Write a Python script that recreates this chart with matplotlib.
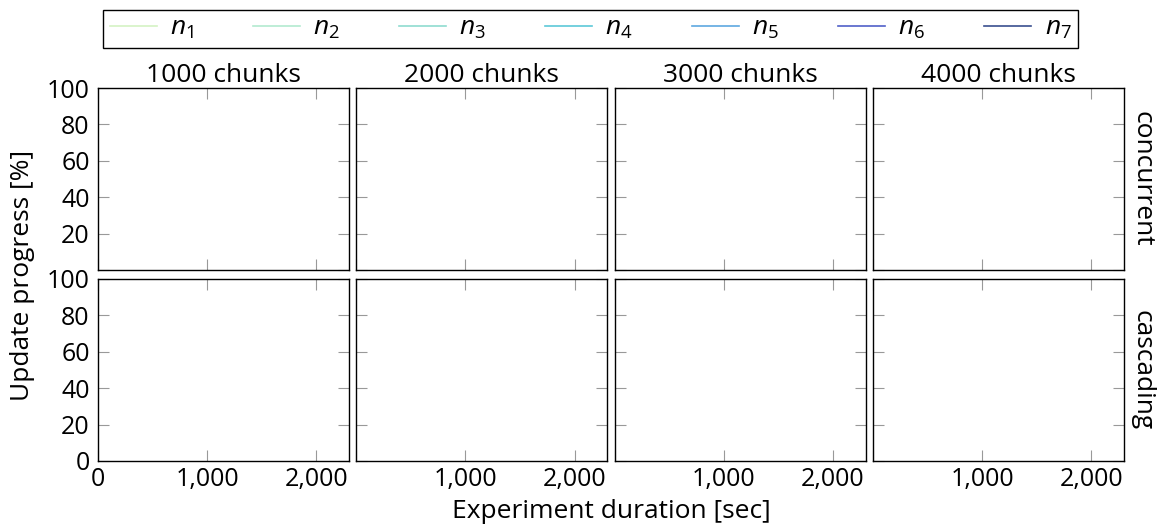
import matplotlib
matplotlib.use("Agg")
import matplotlib.pyplot as plt
from matplotlib.ticker import FuncFormatter

# panel layout: columns = chunk counts, rows = update strategy
chunks = [1000, 2000, 3000, 4000]
strategies = ["concurrent", "cascading"]
nodes = ["n1", "n2", "n3", "n4", "n5", "n6", "n7"]
node_colors = ["#d4f2c4", "#b3ead0", "#8fdcd0", "#5cc8d8", "#5ea8e0", "#5060c8", "#3a4f8f"]

# measured progress per node: empty in the reference (no curves drawn)
time_sec = []
progress = []

x_ticks = [0, 1000, 2000]
y_ticks = [0, 20, 40, 60, 80, 100]

plt.rcParams["font.family"] = ["Open Sans", "DejaVu Sans"]
plt.rcParams["mathtext.fontset"] = "custom"
plt.rcParams["mathtext.it"] = "Open Sans:italic"
plt.rcParams["mathtext.rm"] = "Open Sans"

FS = 19
W, H = 1163, 530
fig, axes = plt.subplots(2, 4, figsize=(W / 100, H / 100), dpi=100)
fig.subplots_adjust(left=98 / W, right=1124 / W, top=1 - 88 / H, bottom=1 - 461 / H,
                    wspace=0.028, hspace=0.044)

thousands = FuncFormatter(lambda v, p: f"{v:,.0f}")

for r, strat in enumerate(strategies):
    for c, ch in enumerate(chunks):
        ax = axes[r, c]
        for name, col in zip(nodes, node_colors):
            ax.plot(time_sec, progress, color=col, lw=1.2,
                    label=f"${name[0]}_{{{name[1:]}}}$")
        ax.set_xlim(0, 2300)
        ax.set_ylim(0, 100)
        ax.set_xticks(x_ticks)
        ax.set_yticks(y_ticks)
        ax.tick_params(direction="in", length=8, width=0.8, color="#999999",
                       top=True, right=True, labelsize=FS - 1)
        ax.tick_params(axis="x", pad=4)
        ax.tick_params(axis="y", pad=6)
        for s in ax.spines.values():
            s.set_linewidth(1.0)
        if r == 1:
            labels = [thousands(v, None) for v in x_ticks]
            if c > 0:
                labels[0] = ""
            ax.set_xticklabels(labels)
        else:
            ax.set_xticklabels([])
            ax.set_title(f"{ch} chunks", fontsize=FS, pad=1)
        if c == 0:
            labels = [str(v) for v in y_ticks]
            if r == 0:
                labels[0] = ""
            ax.set_yticklabels(labels)
        else:
            ax.set_yticklabels([])
        if c == 3:
            ax.yaxis.set_label_position("right")
            ax.set_ylabel(strat, rotation=270, fontsize=FS, labelpad=22)

fig.text(611 / W, 1 - 512 / H, "Experiment duration [sec]", ha="center", va="center", fontsize=FS)
fig.text(23 / W, 1 - 275 / H, "Update progress [%]", ha="center", va="center",
         rotation=90, fontsize=FS)

handles, labels = axes[0, 0].get_legend_handles_labels()
leg = fig.legend(handles, labels, ncol=7, mode="expand",
                 bbox_to_anchor=(103 / W, 1 - 48 / H, 975 / W, 40 / H), loc="lower left",
                 frameon=True, fancybox=False, edgecolor="black", framealpha=1,
                 fontsize=FS, handlelength=1.8, borderaxespad=0, handletextpad=0.5,
                 borderpad=0.25)
leg.get_frame().set_linewidth(1.0)

fig.savefig("out.png", dpi=100)
